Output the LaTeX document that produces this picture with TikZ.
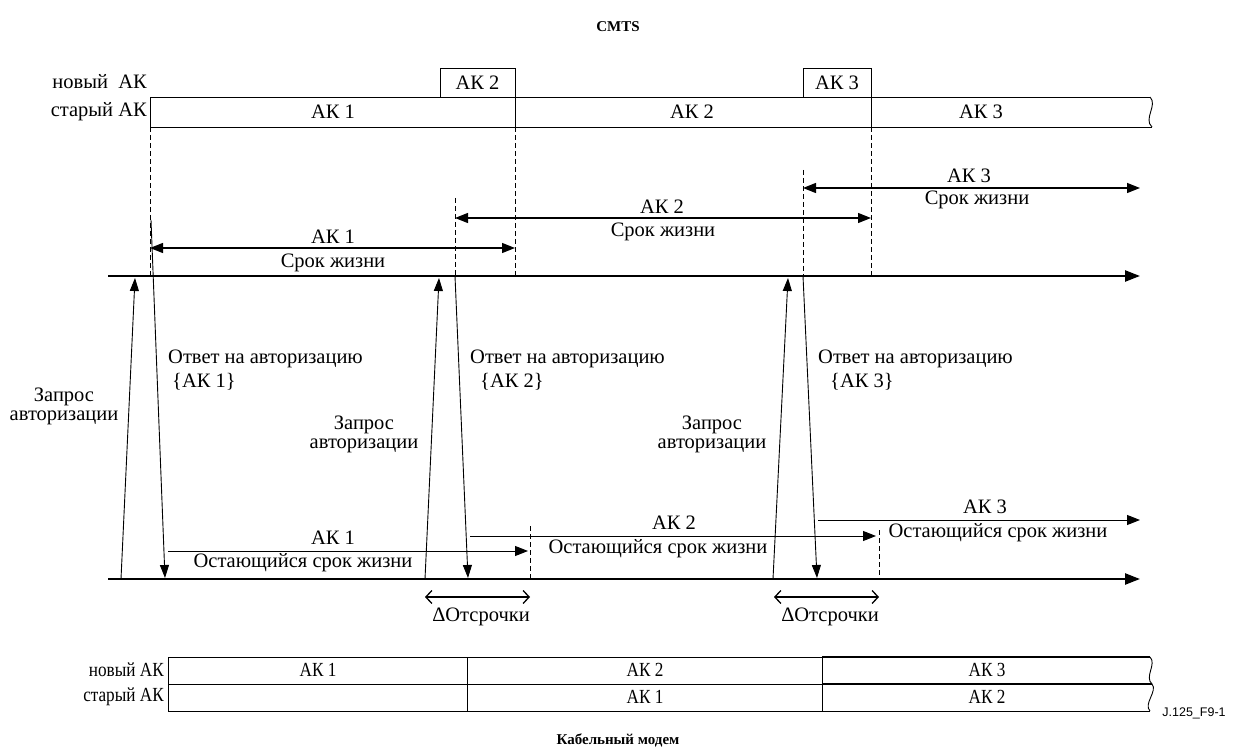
\documentclass[tikz,border=0pt]{standalone}
\usepackage{fontspec}
\setmainfont{Liberation Serif}
\newfontfamily\sansf{Liberation Sans}
\newfontfamily\narrowf[FakeStretch=0.86]{Liberation Serif}
\usetikzlibrary{arrows.meta}
\begin{document}
\begin{tikzpicture}[x=1pt,y=-1pt,
  txt/.style={font=\fontsize{20.5}{19}\selectfont, inner sep=0pt},
  ntxt/.style={font=\narrowf\fontsize{20}{19}\selectfont, inner sep=0pt},
  ttl/.style={font=\fontsize{15}{17}\selectfont\bfseries, inner sep=0pt},
  frame/.style={line width=0.9pt},
  boxnode/.style={txt, draw, line width=0.9pt, minimum height=29pt},
  vdash/.style={line width=0.9pt, dash pattern=on 5pt off 3pt},
  axis/.style={line width=2.4pt, -{Triangle[length=15pt,width=11pt]}},
  life/.style={line width=1.4pt, {Triangle[length=13pt,width=10pt]}-{Triangle[length=13pt,width=10pt]}},
  rem/.style={line width=1pt, -{Triangle[length=13pt,width=10pt]}},
  msg/.style={line width=0.9pt, -{Triangle[length=13pt,width=9pt]}},
  delta/.style={line width=1.3pt, {Straight Barb[length=6pt,width=13pt]}-{Straight Barb[length=6pt,width=13pt]}},
]
\fill[white] (0,0) rectangle (1235,751);
\useasboundingbox (0,0) rectangle (1235,751);

% ---------- titles
\node[ttl] (cmts) at (618,27) {CMTS};
\node[ttl] (cm) at (618,740) {Кабельный модем};
\node[font=\sansf\fontsize{12.5}{14}\selectfont, inner sep=0pt] (ref) at (1194,713) {J.125\_F9-1};

% ---------- CMTS key bar
\node[txt, anchor=east] (tnew) at (147,82) {новый\ \ АК};
\node[txt, anchor=east] (told) at (147,112) {старый АК};
\node[boxnode, minimum width=75pt] (tb2) at (477.5,82.5) {АК 2};
\node[boxnode, minimum width=68pt] (tb3) at (837,82.5) {АК 3};
\coordinate (tl1) at (150,97);
\coordinate (tl2) at (150,127);
\coordinate (tr1) at (1150,97);
\coordinate (tr2) at (1152,127);
\draw[frame] (tr1) -- (tl1) -- (tl2) -- (tr2);
\draw[frame] (tr1) .. controls (1158,105) and (1143,119) .. (tr2);
\draw[frame] (515,97) -- (515,127) (871,97) -- (871,127);
\node[txt] (to1) at (333,112) {АК 1};
\node[txt] (to2) at (692,112) {АК 2};
\node[txt] (to3) at (981,112) {АК 3};

% ---------- dashed markers (CMTS)
\coordinate (d1a) at (150,127);  \coordinate (d1b) at (150,276);
\coordinate (d2a) at (515,127);  \coordinate (d2b) at (515,276);
\coordinate (d3a) at (871,127);  \coordinate (d3b) at (871,276);
\coordinate (d4a) at (455,198);  \coordinate (d4b) at (455,276);
\coordinate (d5a) at (803,170);  \coordinate (d5b) at (803,276);
\foreach \i in {1,...,5} \draw[vdash] (d\i a) -- (d\i b);

% ---------- lifetimes
\coordinate (l1a) at (150,248); \coordinate (l1b) at (515,248);
\coordinate (l2a) at (455,218); \coordinate (l2b) at (871,218);
\coordinate (l3a) at (803,188); \coordinate (l3b) at (1140,188);
\draw[life] (l1a) -- (l1b);
\draw[life] (l2a) -- (l2b);
\draw[life] (l3a) -- (l3b);
\node[txt] (l1t) at (333,237) {АК 1};
\node[txt] (l1s) at (333,263) {Срок жизни};
\node[txt] (l2t) at (662,207) {АК 2};
\node[txt] (l2s) at (663,232) {Срок жизни};
\node[txt] (l3t) at (969,176) {АК 3};
\node[txt] (l3s) at (977,200) {Срок жизни};

% ---------- time axes
\coordinate (ca) at (108,276); \coordinate (cb) at (1140,276);
\coordinate (ma) at (108,579); \coordinate (mb) at (1140,579);
\draw[axis] (ca) -- (cb);
\draw[axis] (ma) -- (mb);

% ---------- messages
\coordinate (q1s) at (121,579); \coordinate (q1e) at (135,278);
\coordinate (r1s) at (151,220); \coordinate (r1e) at (165,578);
\coordinate (q2s) at (425,579); \coordinate (q2e) at (439,278);
\coordinate (r2s) at (455,276); \coordinate (r2e) at (468,578);
\coordinate (q3s) at (773,579); \coordinate (q3e) at (788,278);
\coordinate (r3s) at (803,276); \coordinate (r3e) at (817,578);
\draw[msg] (q1s) -- (q1e);
\draw[msg] (r1s) -- (r1e);
\draw[msg] (q2s) -- (q2e);
\draw[msg] (r2s) -- (r2e);
\draw[msg] (q3s) -- (q3e);
\draw[msg] (r3s) -- (r3e);

\node[txt, anchor=west] (a1) at (168,359) {Ответ на авторизацию};
\node[txt, anchor=west] (a1k) at (172,382) {\{АК 1\}};
\node[txt, anchor=west] (a2) at (470,359) {Ответ на авторизацию};
\node[txt, anchor=west] (a2k) at (480,382) {\{АК 2\}};
\node[txt, anchor=west] (a3) at (818,359) {Ответ на авторизацию};
\node[txt, anchor=west] (a3k) at (830,382) {\{АК 3\}};

\node[txt, align=center] (z1) at (64,406) {Запрос\\авторизации};
\node[txt, align=center] (z2) at (364,434) {Запрос\\авторизации};
\node[txt, align=center] (z3) at (712,434) {Запрос\\авторизации};

% ---------- remaining lifetimes
\coordinate (m1a) at (168,551); \coordinate (m1b) at (528,551);
\coordinate (m2a) at (470,536); \coordinate (m2b) at (876,536);
\coordinate (m3a) at (818,520); \coordinate (m3b) at (1140,520);
\draw[rem] (m1a) -- (m1b);
\draw[rem] (m2a) -- (m2b);
\draw[rem] (m3a) -- (m3b);
\node[txt] (m1t) at (333,538) {АК 1};
\node[txt] (m1s) at (303,563) {Остающийся срок жизни};
\node[txt] (m2t) at (674,523) {АК 2};
\node[txt] (m2s) at (658,549) {Остающийся срок жизни};
\node[txt] (m3t) at (985,507) {АК 3};
\node[txt] (m3s) at (998,533) {Остающийся срок жизни};

\coordinate (e1a) at (530,526); \coordinate (e1b) at (530,579);
\coordinate (e2a) at (879,530); \coordinate (e2b) at (879,579);
\draw[vdash] (e1a) -- (e1b);
\draw[vdash] (e2a) -- (e2b);

% ---------- grace intervals
\coordinate (g1a) at (425,597); \coordinate (g1b) at (530,597);
\coordinate (g2a) at (774,597); \coordinate (g2b) at (879,597);
\draw[delta] (g1a) -- (g1b);
\draw[delta] (g2a) -- (g2b);
\node[txt] (g1t) at (481,617) {ΔОтсрочки};
\node[txt] (g2t) at (830,617) {ΔОтсрочки};

% ---------- cable modem key bar
\node[ntxt, anchor=east] (bnew) at (164,670) {новый АК};
\node[ntxt, anchor=east] (bold) at (164,697) {старый АК};
\coordinate (bl1) at (168,657); \coordinate (bl2) at (168,684); \coordinate (bl3) at (168,711);
\coordinate (br1) at (1150,657); \coordinate (br2) at (1152,684); \coordinate (br3) at (1150,711);
\draw[frame] (br1) -- (bl1) -- (bl3) -- (br3);
\draw[frame] (bl2) -- (br2);
\draw[line width=1.5pt] (822,657) -- (br1) (822,684) -- (br2);
\draw[frame] (467,657) -- (467,711) (822,657) -- (822,711);
\draw[frame] (br1) .. controls (1157,664) and (1144,677) .. (br2);
\draw[frame] (br2) .. controls (1158,691) and (1143,704) .. (br3);
\node[ntxt] (bn1) at (318,670) {АК 1};
\node[ntxt] (bn2) at (645,670) {АК 2};
\node[ntxt] (bn3) at (987,670) {АК 3};
\node[ntxt] (bo1) at (645,697) {АК 1};
\node[ntxt] (bo2) at (987,697) {АК 2};
\end{tikzpicture}
\end{document}
